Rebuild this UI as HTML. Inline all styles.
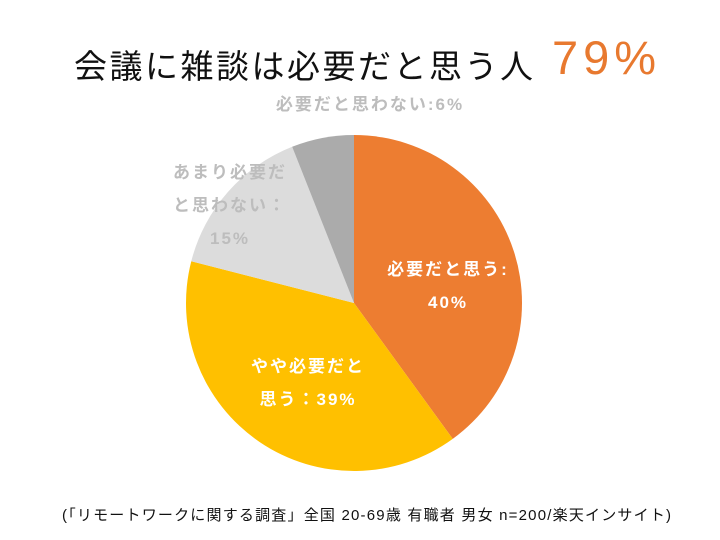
<!DOCTYPE html>
<html><head><meta charset="utf-8">
<style>
body{margin:0;background:#fff;font-family:"Liberation Sans","Noto Sans CJK JP",sans-serif;}
#wrap{position:relative;width:720px;height:540px;overflow:hidden;background:#fff;}
.t{position:absolute;white-space:nowrap;}
</style></head><body>
<div id="wrap">
<div class="t" style="left:74px;top:40px;font-size:33px;letter-spacing:2.5px;color:#111;">会議に雑談は必要だと思う人</div>
<div class="t" style="left:552px;top:30px;color:#E8792F;font-size:47px;letter-spacing:5px;">79%</div>
<svg id="pie" width="720" height="540" style="position:absolute;left:0;top:0"></svg>
<div class="t" style="left:62px;top:504px;font-size:15px;letter-spacing:1.2px;color:#111;">(「リモートワークに関する調査」全国 20-69歳 有職者 男女 n=200/楽天インサイト)</div>
</div>
<script>
const categories=["必要だと思う","やや必要だと思う","あまり必要だと思わない","必要だと思わない"];
const values=[40,39,15,6];
const colors=["#ED7D31","#FFC000","#DCDCDC","#ABABAB"];
const labelLines=[["必要だと思う:","40%"],["やや必要だと","思う：39%"],["あまり必要だ","と思わない：","15%"],["必要だと思わない:6%"]];
const labelPos=[[448,275],[308,372],[230,178],[370,110]];
const labelColor=["#fff","#fff","#BDBDBD","#BDBDBD"];
const cx=354,cy=303,r=168;
const svg=document.getElementById('pie');
const NS="http://www.w3.org/2000/svg";
const total=values.reduce((a,b)=>a+b,0);
let a0=0;
function pt(a){return [cx+r*Math.sin(a),cy-r*Math.cos(a)];}
values.forEach((v,i)=>{
  const a1=a0+v/total*2*Math.PI;
  const p0=pt(a0),p1=pt(a1);
  const large=(a1-a0)>Math.PI?1:0;
  const path=document.createElementNS(NS,'path');
  path.setAttribute('d',`M${cx},${cy} L${p0[0]},${p0[1]} A${r},${r} 0 ${large} 1 ${p1[0]},${p1[1]} Z`);
  path.setAttribute('fill',colors[i]);
  
  
  svg.appendChild(path);
  a0=a1;
});
labelLines.forEach((lines,i)=>{
  const t=document.createElementNS(NS,'text');
  
  
  t.setAttribute('text-anchor','middle');
  t.setAttribute('font-size','17');
  t.setAttribute('letter-spacing','2');
  t.setAttribute('font-weight','bold');
  t.setAttribute('fill',labelColor[i]);
  t.setAttribute('font-family','"Liberation Sans","Noto Sans CJK JP",sans-serif');
  lines.forEach((s,j)=>{
    const ts=document.createElementNS(NS,'tspan');
    ts.setAttribute('x',labelPos[i][0]);
    ts.setAttribute('y',labelPos[i][1]+j*33);
    ts.textContent=s;
    t.appendChild(ts);
  });
  svg.appendChild(t);
});
</script>
</body></html>
